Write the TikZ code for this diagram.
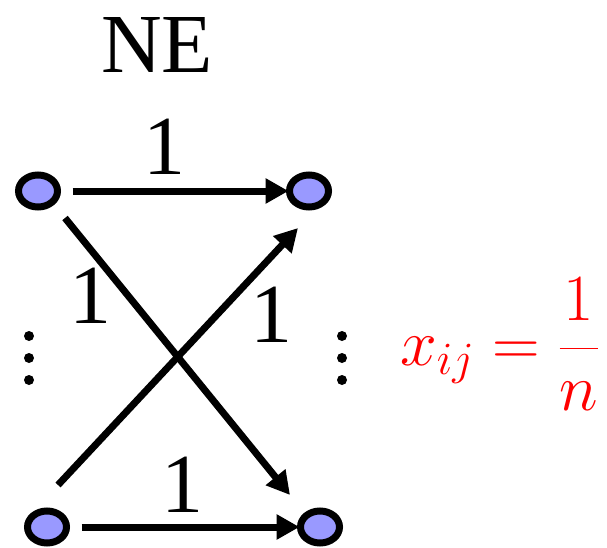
\RequirePackage{fix-cm}
\documentclass[tikz,border=0pt]{standalone}
\usepackage{amsmath}
\usepackage{fontspec}
\setmainfont{Liberation Serif}
\usepackage{tikz}
\usetikzlibrary{arrows.meta,calc,shapes.geometric}
\definecolor{agentfill}{HTML}{9999FF}
\definecolor{eqred}{HTML}{FF0000}

\begin{document}
\begin{tikzpicture}[x=1pt, y=-1pt,
    agent/.style={ellipse, draw=black, fill=agentfill, line width=7pt,
                  minimum width=39pt, minimum height=32pt, inner sep=0pt, outer sep=0pt},
    flow/.style={-{Triangle[length=23pt,width=24pt]}, line width=7pt},
    weight/.style={font=\fontsize{84}{90}\selectfont, anchor=base, inner sep=0pt},
]
\clip (0,0) rectangle (607,548);

\node[font=\fontsize{84}{90}\selectfont, anchor=base, inner sep=0pt] (title) at (157,73) {NE};

\node[agent] (u1) at (38,191) {};
\node[agent] (v1) at (309,191) {};
\node[agent] (un) at (47,527) {};
\node[agent] (vn) at (320,527) {};

\draw[flow, shorten <=15pt, shorten >=1pt] (u1) -- (v1);
\draw[flow, shorten <=15pt, shorten >=1pt] (un) -- (vn);
\draw[flow] ($(u1)+(27,27)$) -- ($(vn)+(-30,-32)$);
\draw[flow] ($(un)+(11,-42)$) -- ($(v1)+(-11,37)$);

\node[weight] (w11) at (164,175) {1};
\node[weight] (w1n) at (90,323) {1};
\node[weight] (wn1) at (271,342) {1};
\node[weight] (wnn) at (182,512) {1};

% vertical dots between the rows
\foreach \y in {336,358,380} {
  \fill (29,\y) circle[radius=5];
  \fill (342,\y) circle[radius=5];
}

\node[anchor=base west, inner sep=0pt, text=eqred, font=\fontsize{66}{72}\selectfont]
  (payoff) at (400,365) {$x_{ij}=\dfrac{1}{n}$};

\end{tikzpicture}
\end{document}
